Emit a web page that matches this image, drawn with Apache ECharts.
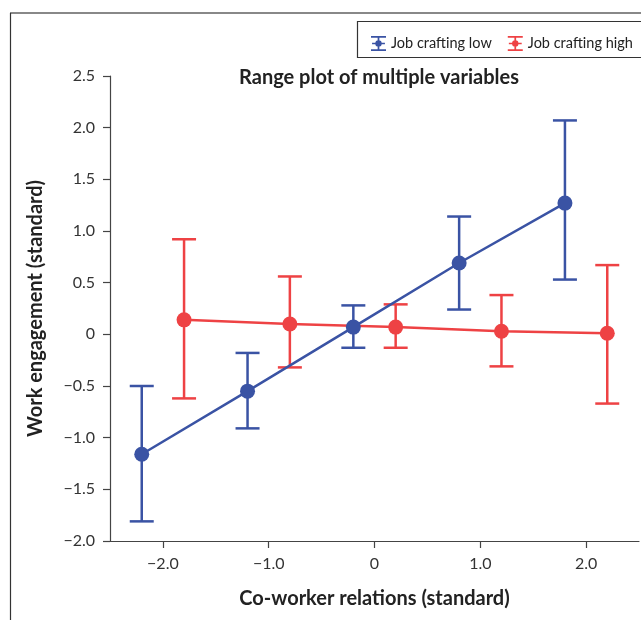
<!DOCTYPE html>
<html>
<head>
<meta charset="utf-8">
<script src="https://cdn.jsdelivr.net/npm/echarts@6/dist/echarts.min.js"></script>
<style>
  html, body { margin: 0; padding: 0; background: #fff; }
  #main { width: 641px; height: 620px; }
</style>
</head>
<body>
<div id="main"></div>
<script>
// values
const xLow = [-2.2, -1.2, -0.2, 0.8, 1.8];
const meanLow = [-1.16, -0.55, 0.07, 0.69, 1.27];
const lowerLow = [-1.81, -0.91, -0.13, 0.24, 0.53];
const upperLow = [-0.50, -0.18, 0.28, 1.14, 2.07];

const xHigh = [-1.8, -0.8, 0.2, 1.2, 2.2];
const meanHigh = [0.14, 0.10, 0.07, 0.03, 0.01];
const lowerHigh = [-0.62, -0.32, -0.13, -0.31, -0.67];
const upperHigh = [0.92, 0.56, 0.29, 0.38, 0.67];

const xTicks = [-2, -1, 0, 1, 2];

const blue = '#3a53a4';
const red = '#ee4244';
const font = 'Lato, "Open Sans", sans-serif';
// error bar glyph for the legend
const barIcon = 'path://M0,0h14v1.6h-14z M0,12.4h14v1.6h-14z M6.2,0h1.6v14h-1.6z M1,6.2h12v1.6h-12z M7,4a3,3 0 1,1 -0.01,0z';

function fmt(v) {
    if (Math.abs(v) < 1e-9) return '0';
    return (v < 0 ? '\u2212' : '') + Math.abs(v).toFixed(1);
}

function errorBars(color) {
    return function (params, api) {
        const x = api.value(0);
        const lo = api.coord([x, api.value(1)]);
        const hi = api.coord([x, api.value(2)]);
        const w = 12;
        const st = { stroke: color, lineWidth: 2.5 };
        return {
            type: 'group',
            children: [
                { type: 'line', shape: { x1: lo[0], y1: lo[1], x2: hi[0], y2: hi[1] }, style: st },
                { type: 'line', shape: { x1: lo[0] - w, y1: lo[1], x2: lo[0] + w, y2: lo[1] }, style: st },
                { type: 'line', shape: { x1: hi[0] - w, y1: hi[1], x2: hi[0] + w, y2: hi[1] }, style: st }
            ]
        };
    };
}

const chart = echarts.init(document.getElementById('main'));
chart.setOption({
    animation: false,
    textStyle: { fontFamily: font },
    title: {
        text: 'Range plot of multiple variables',
        left: 374,
        textAlign: 'center',
        top: 63,
        textStyle: { fontFamily: font, fontSize: 20, fontWeight: 'bold', color: '#222' }
    },
    legend: {
        left: 366,
        top: 31,
        itemWidth: 15,
        itemHeight: 15,
        itemGap: 16,
        textStyle: { fontFamily: font, fontSize: 14.5, color: '#222' },
        data: [
            { name: 'Job crafting low', icon: barIcon },
            { name: 'Job crafting high', icon: barIcon }
        ]
    },
    graphic: [
        { type: 'line', shape: { x1: 10, y1: 13, x2: 641, y2: 13 }, style: { stroke: '#888', lineWidth: 2 } },
        { type: 'line', shape: { x1: 10.5, y1: 13, x2: 10.5, y2: 620 }, style: { stroke: '#333', lineWidth: 1.2 } },
        { type: 'rect', shape: { x: 357.5, y: 21.5, width: 300, height: 36 }, style: { fill: 'none', stroke: '#333', lineWidth: 1.2 } }
    ],
    grid: { left: 110, right: 2, top: 76, bottom: 79 },
    xAxis: {
        type: 'value',
        min: -2.5,
        max: 2.5,
        name: 'Co-worker relations (standard)',
        nameLocation: 'middle',
        nameGap: 48,
        nameTextStyle: { fontFamily: font, fontSize: 20, fontWeight: 'bold', color: '#222' },
        axisLine: { show: true, onZero: false, lineStyle: { color: '#444', width: 1.2 } },
        axisTick: { show: true, length: 7, customValues: xTicks, lineStyle: { color: '#444', width: 1.2 } },
        axisLabel: { customValues: xTicks, margin: 15, fontSize: 16, color: '#333', formatter: fmt },
        splitLine: { show: false }
    },
    yAxis: {
        type: 'value',
        min: -2,
        max: 2.5,
        interval: 0.5,
        name: 'Work engagement (standard)',
        nameLocation: 'middle',
        nameGap: 64,
        nameTextStyle: { fontFamily: font, fontSize: 20, fontWeight: 'bold', color: '#222' },
        axisLine: { show: true, onZero: false, lineStyle: { color: '#444', width: 1.2 } },
        axisTick: { show: true, length: 7, lineStyle: { color: '#444', width: 1.2 } },
        axisLabel: { margin: 15, fontSize: 16, color: '#333', formatter: fmt },
        splitLine: { show: false }
    },
    series: [
        {
            name: 'Job crafting low',
            type: 'custom',
            renderItem: errorBars(blue),
            itemStyle: { color: blue },
            data: xLow.map((x, i) => [x, lowerLow[i], upperLow[i]]),
            z: 2
        },
        {
            name: 'Job crafting high',
            type: 'custom',
            renderItem: errorBars(red),
            itemStyle: { color: red },
            data: xHigh.map((x, i) => [x, lowerHigh[i], upperHigh[i]]),
            z: 2
        },
        {
            name: 'Job crafting low',
            type: 'line',
            symbol: 'circle',
            symbolSize: 15,
            itemStyle: { color: blue },
            lineStyle: { color: blue, width: 2.5 },
            data: xLow.map((x, i) => [x, meanLow[i]]),
            z: 3
        },
        {
            name: 'Job crafting high',
            type: 'line',
            symbol: 'circle',
            symbolSize: 15,
            itemStyle: { color: red },
            lineStyle: { color: red, width: 2.5 },
            data: xHigh.map((x, i) => [x, meanHigh[i]]),
            z: 3
        }
    ]
});
</script>
</body>
</html>
